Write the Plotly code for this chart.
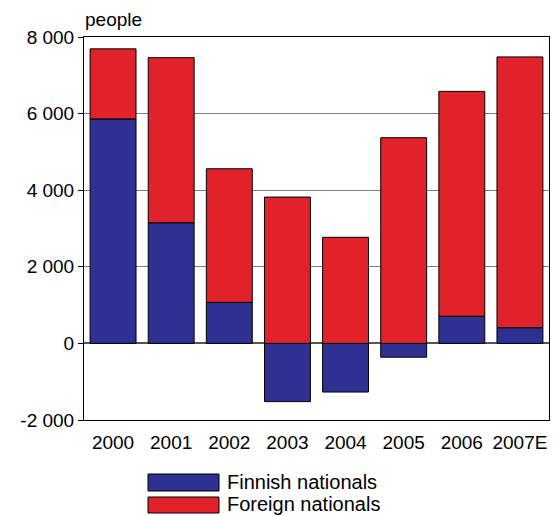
import plotly.graph_objects as go

years = ["2000", "2001", "2002", "2003", "2004", "2005", "2006", "2007E"]
finnish = [5860, 3150, 1070, -1520, -1270, -360, 710, 410]
foreign = [1830, 4310, 3490, 3820, 2770, 5370, 5870, 7070]
y_tickvals = [-2000, 0, 2000, 4000, 6000, 8000]
y_ticktext = ["-2 000", "0", "2 000", "4 000", "6 000", "8 000"]

BLUE = "#2E3192"
RED = "#E1222B"
FONT = "Liberation Sans, Arial, sans-serif"

fig = go.Figure()
fig.add_trace(go.Bar(x=years, y=finnish, name="Finnish nationals",
                     marker=dict(color=BLUE, line=dict(color="black", width=1))))
fig.add_trace(go.Bar(x=years, y=foreign, name="Foreign nationals",
                     marker=dict(color=RED, line=dict(color="black", width=1))))

W, H = 556, 516
L, R, T, B = 84, 7, 37, 96
pw, ph = W - L - R, H - T - B

def px(x):
    return (x - L) / pw

def py(y):
    return (H - B - y) / ph

shapes = []
annotations = []
legend_items = [("Finnish nationals", BLUE, 474, 491, 482), ("Foreign nationals", RED, 497, 513, 504)]
for label, col, y0, y1, yc in legend_items:
    shapes.append(dict(type="rect", xref="paper", yref="paper",
                       x0=px(148), x1=px(219), y0=py(y1), y1=py(y0),
                       fillcolor=col, line=dict(color="black", width=1)))
    annotations.append(dict(text=label, xref="paper", yref="paper", x=px(225), y=py(yc),
                            xanchor="left", yanchor="middle", showarrow=False,
                            font=dict(size=20, color="black", family=FONT)))
annotations.append(dict(text="people", xref="paper", yref="paper", x=px(83), y=py(20),
                        xanchor="left", yanchor="middle", showarrow=False,
                        font=dict(size=19, color="black", family=FONT)))

fig.update_layout(
    width=W, height=H,
    margin=dict(l=L, r=R, t=T, b=B),
    barmode="relative",
    bargap=0.21,
    plot_bgcolor="white",
    paper_bgcolor="white",
    showlegend=False,
    font=dict(family=FONT, size=19, color="black"),
    shapes=shapes,
    annotations=annotations,
)
fig.update_xaxes(showline=True, linecolor="black", linewidth=1, mirror=True,
                 ticks="", tickfont=dict(size=19), showgrid=False, ticklabelstandoff=5)
fig.update_yaxes(range=[-2000, 8000], tickvals=y_tickvals, ticktext=y_ticktext,
                 showline=True, linecolor="black", linewidth=1, mirror=True,
                 ticks="outside", ticklen=5, tickcolor="black",
                 showgrid=True, gridcolor="#7f7f7f", gridwidth=1,
                 zeroline=True, zerolinecolor="#555555", zerolinewidth=1.5,
                 tickfont=dict(size=19))

fig.write_html("out.html", config={"displayModeBar": False},
               post_script="document.body.style.margin='0';document.body.style.overflow='hidden';")
